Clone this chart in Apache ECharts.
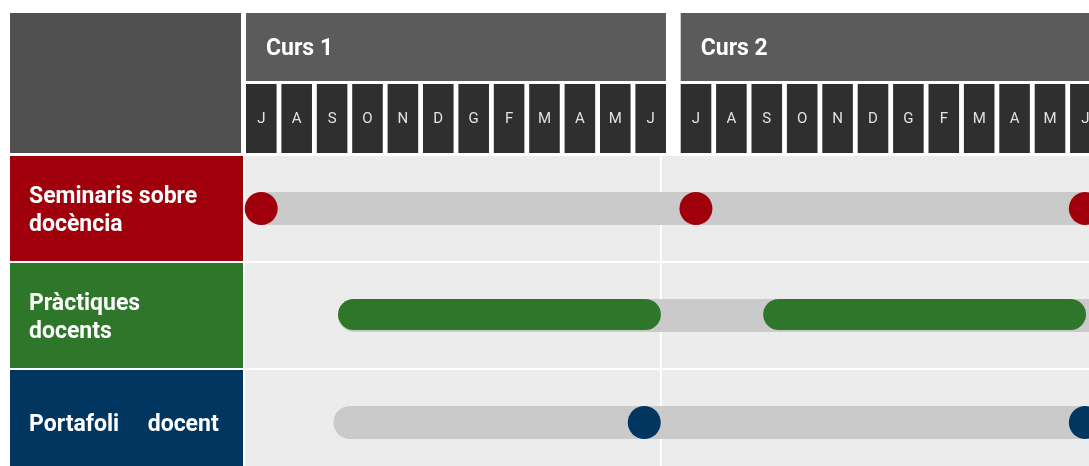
<!DOCTYPE html>
<html><head><meta charset="utf-8">
<script src="https://cdn.jsdelivr.net/npm/echarts@6/dist/echarts.min.js"></script>
<style>html,body{margin:0;padding:0;background:#fff}#c{width:1089px;height:466px}</style>
</head><body><div id="c"></div>
<script>
// ---- data ----
const courses = ['Curs 1', 'Curs 2'];
const courseStart = [0, 12.28];            // month-slot offset of each course on the time axis
const months = ['J','A','S','O','N','D','G','F','M','A','M','J'];
const rows = ['Seminaris sobre\ndocència', 'Pràctiques\ndocents', 'Portafoli     docent'];
const rowColors = ['#a0000c', '#2e7629', '#003660'];
// positions as [courseIndex, monthOffset]
const trackRanges = [
  [[0, -0.03], [1, 12.8]],
  [[0, 2.60], [1, 12.8]],
  [[0, 2.47], [1, 12.8]]
];
const seminarDots = [[0, 0.43], [1, 0.43], [1, 11.43]];
const practiceBars = [[[0, 2.60], [0, 11.72]], [[1, 2.33], [1, 11.45]]];
const portfolioDots = [[0, 11.25], [1, 11.43]];
const dividerAt = [0, 11.72];

// ---- layout constants ----
const X_MAX = 23.814;
const CELL_W = 0.864;   // month cell width in slot units
const GAP = 0.136;

const pos = p => courseStart[p[0]] + p[1];
const FONT = 'Roboto, "Noto Sans", sans-serif';

const chart = echarts.init(document.getElementById('c'), null, {renderer: 'canvas'});

const option = {
  animation: false,
  backgroundColor: '#ffffff',
  grid: {left: 246, top: 155, width: 843, height: 321, outerBoundsMode: 'none', containLabel: false},
  xAxis: {type: 'value', min: 0, max: X_MAX, show: false},
  yAxis: {type: 'category', data: rows, inverse: true, show: false},
  series: [
    { // row backgrounds + labels
      type: 'custom', clip: false, silent: true,
      data: rows.map((r, i) => [0, i]),
      renderItem: (params, api) => {
        const i = api.value(1);
        const c = api.coord([0, i]);
        const bh = api.size([0, 1])[1];
        const top = c[1] - bh / 2;
        return {type: 'group', children: [
          {type: 'rect', shape: {x: 10, y: top + 1, width: 233, height: bh - 2}, style: {fill: rowColors[i]}},
          {type: 'text', style: {text: rows[i], x: 29, y: c[1] + 2.5, fill: '#ffffff', font: 'bold 23px ' + FONT,
            textAlign: 'left', textVerticalAlign: 'middle', lineHeight: 28}},
          {type: 'rect', shape: {x: c[0] - 1, y: top + 1, width: 1089 - c[0] + 1, height: bh - 2}, style: {fill: '#ececec'}}
        ]};
      }
    },
    { // header
      type: 'custom', clip: false, silent: true,
      data: courses.map((n, ci) => [courseStart[ci], 0]),
      renderItem: (params, api) => {
        const ci = params.dataIndex;
        const x0 = api.coord([courseStart[ci], 0])[0];
        const x1 = api.coord([courseStart[ci] + 12 - GAP, 0])[0];
        const children = [];
        if (ci === 0) {
          children.push({type: 'rect', shape: {x: 10, y: 13, width: 231, height: 140}, style: {fill: '#505050'}});
        }
        children.push({type: 'rect', shape: {x: x0, y: 13, width: x1 - x0, height: 68}, style: {fill: '#5b5b5b'}});
        children.push({type: 'text', style: {text: courses[ci], x: x0 + 20, y: 49, fill: '#ffffff',
          font: 'bold 23px ' + FONT, textAlign: 'left', textVerticalAlign: 'middle'}});
        months.forEach((m, mi) => {
          const a = api.coord([courseStart[ci] + mi, 0])[0];
          const b = api.coord([courseStart[ci] + mi + CELL_W, 0])[0];
          children.push({type: 'rect', shape: {x: a, y: 84, width: b - a, height: 69}, style: {fill: '#2f2f2f'}});
          children.push({type: 'text', style: {text: m, x: (a + b) / 2, y: 119, fill: '#e2e2e2',
            font: '15px ' + FONT, textAlign: 'center', textVerticalAlign: 'middle'}});
        });
        return {type: 'group', children};
      }
    },
    { // vertical divider
      type: 'custom', clip: false, silent: true,
      data: [[pos(dividerAt), 0]],
      renderItem: (params, api) => {
        const x = api.coord([api.value(0), 0])[0];
        return {type: 'rect', shape: {x: x - 1, y: 156, width: 2, height: 320}, style: {fill: '#ffffff'}};
      }
    },
    { // grey tracks
      type: 'custom', clip: true, silent: true,
      data: trackRanges.map((t, i) => [pos(t[0]), pos(t[1]), i]),
      renderItem: (params, api) => {
        const a = api.coord([api.value(0), api.value(2)]);
        const b = api.coord([api.value(1), api.value(2)]);
        const h = 33;
        return {type: 'rect', shape: {x: a[0], y: a[1] - h / 2, width: b[0] - a[0], height: h, r: h / 2},
          style: {fill: '#cacaca'}};
      }
    },
    { // practice bars
      type: 'custom', clip: true, silent: true,
      data: practiceBars.map(b => [pos(b[0]), pos(b[1]), 1]),
      renderItem: (params, api) => {
        const a = api.coord([api.value(0), api.value(2)]);
        const b = api.coord([api.value(1), api.value(2)]);
        const h = 31;
        return {type: 'rect', shape: {x: a[0], y: a[1] - h / 2 - 1, width: b[0] - a[0], height: h, r: h / 2},
          style: {fill: rowColors[1]}};
      }
    },
    {
      type: 'scatter', silent: true, clip: true,
      symbol: 'circle', symbolSize: 33,
      itemStyle: {color: rowColors[0], opacity: 1},
      data: seminarDots.map(d => [pos(d), 0])
    },
    {
      type: 'scatter', silent: true, clip: true,
      symbol: 'circle', symbolSize: 33,
      itemStyle: {color: rowColors[2], opacity: 1},
      data: portfolioDots.map(d => [pos(d), 2])
    }
  ]
};
chart.setOption(option);
</script>
</body></html>
